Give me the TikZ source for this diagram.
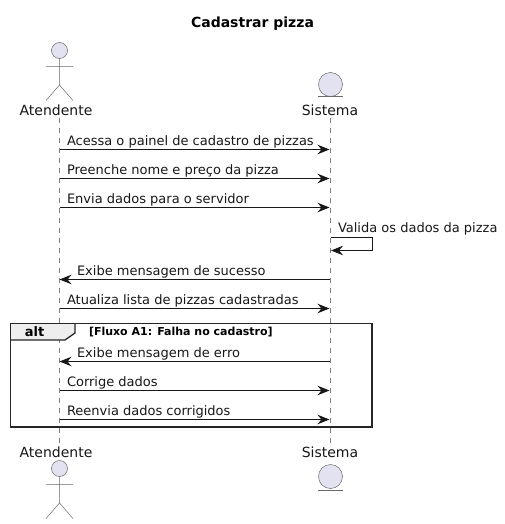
\documentclass[tikz,border=0pt]{standalone}
\usepackage{fontspec}
\setmainfont{DejaVu Sans}
\usetikzlibrary{arrows.meta}
\definecolor{actfill}{HTML}{E2E2F0}
\definecolor{actline}{HTML}{6A6A6A}
\definecolor{lifeln}{HTML}{7F7F7F}
\definecolor{tabfill}{HTML}{EEEEEE}
\definecolor{txt}{HTML}{181818}
\tikzset{
  x=1pt,y=-1pt,
  every node/.style={inner sep=0pt,outer sep=0pt,text=txt},
  lbl/.style={font=\fontsize{14}{16}\selectfont,anchor=base},
  msg/.style={font=\fontsize{13}{15}\selectfont,anchor=base west},
  lifeline/.style={draw=lifeln,line width=0.6pt,dash pattern=on 5pt off 5pt},
  actorline/.style={draw=actline,line width=0.5pt},
  actorhead/.style={circle,draw=actline,fill=actfill,line width=0.5pt,minimum size=16pt},
  entity/.style={circle,draw=actline,fill=actfill,line width=0.5pt,minimum size=24pt},
  tip/.style={-{Stealth[length=12pt,width=9.5pt,inset=4pt]},draw=txt,line width=0.8pt},
  altframe/.style={draw=black!85,line width=1.7pt},
}
\begin{document}
\begin{tikzpicture}
\useasboundingbox (0,0) rectangle (504,524);
\fill[white] (0,0) rectangle (504,524);
\node[anchor=base,font=\bfseries\fontsize{14}{16}\selectfont,text=black] (title) at (252.5,28) {Cadastrar pizza};
% lifelines
\coordinate (aT) at (59.5,118); \coordinate (aB) at (59.5,443);
\coordinate (sT) at (330.5,118); \coordinate (sB) at (330.5,443);
\draw[lifeline] (aT) -- (aB);
\draw[lifeline] (sT) -- (sB);
% actors
\node[lbl] (atop) at (56,115) {Atendente};
\node[lbl] (abot) at (56,457) {Atendente};
\node[lbl] (stop) at (330,115) {Sistema};
\node[lbl] (sbot) at (330,457) {Sistema};
% top actor
\node[actorhead] (h1) at (59.5,50.5) {};
\coordinate (w1) at (59.5,85); \coordinate (l1a) at (46,100.5); \coordinate (l1b) at (73,100.5);
\coordinate (a1a) at (46,66.5); \coordinate (a1b) at (73,66.5);
\draw[actorline] (h1.south) -- (w1) (a1a) -- (a1b) (l1a) -- (w1) -- (l1b);
% bottom actor
\node[actorhead] (h2) at (59.5,468.5) {};
\coordinate (w2) at (59.5,503); \coordinate (l2a) at (46,518.5); \coordinate (l2b) at (73,518.5);
\coordinate (a2a) at (46,484.5); \coordinate (a2b) at (73,484.5);
\draw[actorline] (h2.south) -- (w2) (a2a) -- (a2b) (l2a) -- (w2) -- (l2b);
% entities
\node[entity] (e1) at (330.5,84.5) {};
\coordinate (u1a) at (318,96.5); \coordinate (u1b) at (343,96.5);
\draw[actorline] (u1a) -- (u1b);
\node[entity] (e2) at (330.5,476.5) {};
\coordinate (u2a) at (318,490.5); \coordinate (u2b) at (343,490.5);
\draw[actorline] (u2a) -- (u2b);
% alt frame
\coordinate (fTL) at (10.5,323.5); \coordinate (fBR) at (372,427);
\coordinate (t1) at (75,323.5); \coordinate (t2) at (75,333); \coordinate (t3) at (65,340); \coordinate (t4) at (10.5,340);
\fill[tabfill] (fTL) -- (t1) -- (t2) -- (t3) -- (t4) -- cycle;
\draw[altframe] (fTL) rectangle (fBR);
\draw[draw=black!85,line width=1.3pt] (t1) -- (t2) -- (t3) -- (t4);
\node[anchor=base,font=\bfseries\fontsize{13}{15}\selectfont,text=black] (alt) at (34.5,336) {alt};
\node[anchor=base west,font=\bfseries\fontsize{11}{13}\selectfont,text=black] (guard) at (89,335) {[Fluxo A1: Falha no cadastro]};
% messages
\foreach \yy/\nm in {149.5/m1,178.5/m2,207.5/m3,279.5/m5,308.5/m6,361.5/m7,390.5/m8,419.5/m9}{
  \coordinate (\nm a) at (59.5,\yy);
  \coordinate (\nm s) at (329.5,\yy);
}
\coordinate (m4a) at (330.5,237.5); \coordinate (m4b) at (372.5,237.5); \coordinate (m4c) at (372.5,250.5); \coordinate (m4d) at (331,250.5);
\draw[tip] (m1a) -- (m1s);
\draw[tip] (m2a) -- (m2s);
\draw[tip] (m3a) -- (m3s);
\draw[tip] (m4a) -- (m4b) -- (m4c) -- (m4d);
\draw[tip] (m5s) -- (m5a);
\draw[tip] (m6a) -- (m6s);
\draw[tip] (m7s) -- (m7a);
\draw[tip] (m8a) -- (m8s);
\draw[tip] (m9a) -- (m9s);
\node[msg] (t1n) at (67,145) {Acessa o painel de cadastro de pizzas};
\node[msg] (t2n) at (67,174) {Preenche nome e preço da pizza};
\node[msg] (t3n) at (67,203) {Envia dados para o servidor};
\node[msg] (t4n) at (338,232) {Valida os dados da pizza};
\node[msg] (t5n) at (77,275) {Exibe mensagem de sucesso};
\node[msg] (t6n) at (67,304) {Atualiza lista de pizzas cadastradas};
\node[msg] (t7n) at (77,357) {Exibe mensagem de erro};
\node[msg] (t8n) at (67,386) {Corrige dados};
\node[msg] (t9n) at (67,415) {Reenvia dados corrigidos};
\end{tikzpicture}
\end{document}
